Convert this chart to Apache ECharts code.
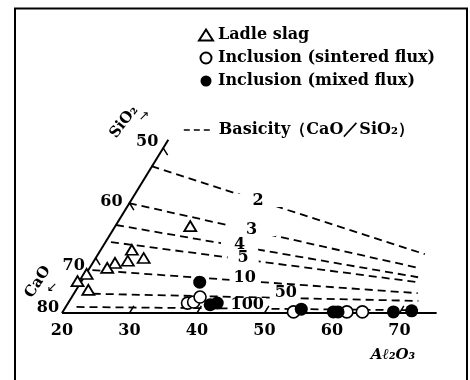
<!DOCTYPE html>
<html><head><meta charset="utf-8">
<script src="https://cdn.jsdelivr.net/npm/echarts@6/dist/echarts.min.js"></script>
<style>html,body{margin:0;padding:0;background:#fff}#c{width:470px;height:380px}</style>
</head><body><div id="c"></div>
<script>
// Compositions as [Al2O3 %, SiO2 %]  (CaO = 100 - Al2O3 - SiO2)
const ladleSlag = [[31.1,15.8],[24.6,11.5],[25.0,9.5],[27.1,10.0],[23.3,9.1],[22.6,8.2],[20.1,7.1],[19.4,5.8],[21.8,4.2]];
const inclusionSintered = [[37.7,1.8],[38.5,2.0],[39.0,2.9],[54.2,0.2],[62.1,0.2],[64.4,0.2]];
const inclusionMixed = [[37.6,5.6],[41.2,1.5],[42.1,1.8],[55.1,0.7],[60.1,0.2],[60.8,0.2],[69.0,0.2],[71.6,0.4]];
// Basicity (CaO/SiO2) iso-lines: start / end compositions
const basicityValues = ['2','3','4','5','10','50','100'];
const basicityStart = [[19.9,26.7],[19.9,20.0],[20.0,16.0],[20.8,12.9],[20.6,7.8],[22.8,3.5],[21.6,1.1]];
const basicityEnd = [[68.4,10.7],[68.7,8.2],[69.5,6.5],[69.9,5.6],[70.9,3.6],[71.7,2.2],[72.5,0.5]];
// Axis ticks
const al2o3Ticks = [20,30,40,50,60,70];
const caoTicks = [80,70,60,50];      // along the Al2O3 = 20 % line
const edgeAl2O3 = 20;
const edgeSiO2Top = 31.5;
const baselineAl2O3End = 75.5;

const S3 = Math.sqrt(3)/2;
function toXY(c){ return [c[0] + c[1]/2, c[1]*S3]; }

const FONT = 'DejaVu Serif';
const black = '#000';

// label layout (style), one per basicity line: fraction along line, padding, offset
const basicityLabelLayout = [
  {t:0.39, pad:[0,18], off:[0,0]},
  {t:0.424, pad:[0,19], off:[0,-1]},
  {t:0.409, pad:[0,13], off:[0,-2]},
  {t:0.431, pad:[0,10], off:[0,-2]},
  {t:0.468, pad:[0,4], off:[0,-3]},
  {t:0.593, pad:[0,2], off:[0,-5]},
  {t:0.50, pad:[0,2], off:[0,-4]}
];
const caoLabelOffset = [[-14,-5],[-22,8],[-18,-1],[-16,-6]];

const labelBase = {show:true, position:'inside', color:black, opacity:1, textBorderWidth:0, textShadowBlur:0,
  fontFamily:FONT, fontWeight:'bold', fontSize:16};

const series = [];
const BAS = 'Basicity（CaO／SiO₂）';
basicityValues.forEach((v,i)=>{
  series.push({type:'line', name:BAS, z:2, silent:true, symbol:'none', clip:false,
    itemStyle:{color:black},
    lineStyle:{color:black, width:1.8, type:[8,5]},
    data:[toXY(basicityStart[i]), toXY(basicityEnd[i])]});
});
series.push({type:'scatter', z:3, silent:true, symbolSize:0, clip:false,
  itemStyle:{color:black},
  label:Object.assign({}, labelBase, {backgroundColor:'#fff', lineHeight:13, formatter:p=>basicityValues[p.dataIndex]}),
  data: basicityValues.map((v,i)=>{
    const st=basicityStart[i], en=basicityEnd[i], L=basicityLabelLayout[i];
    const p=[st[0]+(en[0]-st[0])*L.t, st[1]+(en[1]-st[1])*L.t];
    return {value:toXY(p), label:{padding:L.pad, offset:L.off}};
  })});
// baseline (CaO - Al2O3 binary) and Al2O3 = 20 % line
series.push({type:'line', z:5, silent:true, symbol:'none', clip:false,
  lineStyle:{color:black, width:2}, data:[toXY([edgeAl2O3,0]), toXY([baselineAl2O3End,0])]});
series.push({type:'line', z:5, silent:true, symbol:'none', clip:false,
  lineStyle:{color:black, width:2}, data:[toXY([edgeAl2O3,0]), toXY([edgeAl2O3,edgeSiO2Top])]});
// ticks
al2o3Ticks.slice(1).forEach(a=>{
  series.push({type:'line', z:5, silent:true, symbol:'none', clip:false,
    lineStyle:{color:black, width:1.5}, data:[toXY([a,0]), toXY([a,1.3])]});
});
caoTicks.slice(1).forEach(c=>{
  const s = 100 - edgeAl2O3 - c;
  series.push({type:'line', z:5, silent:true, symbol:'none', clip:false,
    lineStyle:{color:black, width:1.5}, data:[toXY([edgeAl2O3,s]), toXY([edgeAl2O3+1.3,s-1.3])]});
});
// CaO tick labels
series.push({type:'scatter', z:4, silent:true, symbolSize:0, clip:false,
  itemStyle:{color:black},
  label:Object.assign({}, labelBase, {formatter:p=>String(caoTicks[p.dataIndex])}),
  data: caoTicks.map((c,i)=>({value:toXY([edgeAl2O3, 100-edgeAl2O3-c]), label:{offset:caoLabelOffset[i]}}))});
// data points
series.push({type:'scatter', name:'Ladle slag', z:6, clip:false, symbol:'triangle', symbolSize:[12,10],
  itemStyle:{color:'#fff', borderColor:black, borderWidth:1.8, opacity:1}, data:ladleSlag.map(toXY)});
series.push({type:'scatter', name:'Inclusion (sintered flux)', z:6, clip:false, symbol:'circle', symbolSize:12,
  itemStyle:{color:'#fff', borderColor:black, borderWidth:1.6, opacity:1}, data:inclusionSintered.map(toXY)});
series.push({type:'scatter', name:'Inclusion (mixed flux)', z:7, clip:false, symbol:'circle', symbolSize:13,
  itemStyle:{color:black, borderColor:black, borderWidth:0, opacity:1}, data:inclusionMixed.map(toXY)});

const txt = {color:black, fontFamily:FONT, fontWeight:'bold', fontSize:16};
const chart = echarts.init(document.getElementById('c'), null, {renderer:'canvas'});
chart.setOption({
  animation:false,
  backgroundColor:'#fff',
  grid:{left:62, width:412.8, top:59, height:254, containLabel:false},
  xAxis:{type:'value', min:20, max:80, interval:10, axisLine:{show:false}, axisTick:{show:false}, splitLine:{show:false},
    axisLabel:{margin:10, color:black, fontFamily:FONT, fontWeight:'bold', fontSize:16,
      formatter:v=> al2o3Ticks.indexOf(v)>=0 ? String(v) : ''}},
  yAxis:{type:'value', min:0, max:40, show:false},
  legend:[
    {orient:'vertical', left:193, top:22, itemWidth:14, itemHeight:11, itemGap:7, textStyle:txt, selectedMode:false,
      data:['Ladle slag','Inclusion (sintered flux)','Inclusion (mixed flux)']},
    {left:178, top:117, itemWidth:30, itemHeight:12, textStyle:txt, selectedMode:false,
      itemStyle:{opacity:0}, lineStyle:{color:black, width:1.6, type:[6,4]}, data:[BAS]}
  ],
  graphic:[
    {type:'rect', z:-1, shape:{x:15, y:8.5, width:452, height:400}, style:{fill:'none', stroke:black, lineWidth:2}},
    {type:'text', x:124, y:122, rotation:52*Math.PI/180, style:{text:'SiO₂', font:'bold 15px "DejaVu Serif"', fill:black, textAlign:'center', textVerticalAlign:'middle'}},
    {type:'text', x:144, y:117, style:{text:'↗', font:'13px "DejaVu Sans"', fill:black, textAlign:'center', textVerticalAlign:'middle'}},
    {type:'text', x:38, y:282, rotation:57*Math.PI/180, style:{text:'CaO', font:'bold 15px "DejaVu Serif"', fill:black, textAlign:'center', textVerticalAlign:'middle'}},
    {type:'text', x:52, y:288, style:{text:'↙', font:'13px "DejaVu Sans"', fill:black, textAlign:'center', textVerticalAlign:'middle'}},
    {type:'text', x:393, y:355, style:{text:'Aℓ₂O₃', font:'italic bold 15px "DejaVu Serif"', fill:black, textAlign:'center', textVerticalAlign:'middle'}}
  ],
  series: series
});
</script></body></html>
